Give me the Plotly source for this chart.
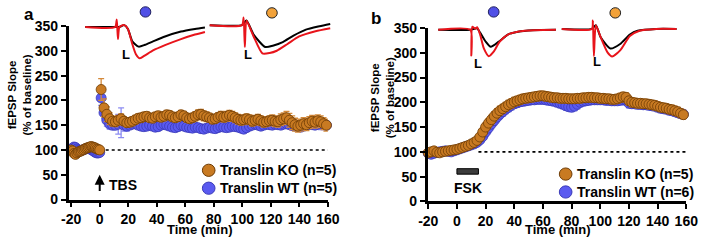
import plotly.graph_objects as go

# ---------------- data ----------------
# Panel a (TBS)
ta_base = [-20, -19, -18, -17, -16, -15, -14, -13, -12, -11, -10, -9, -8, -7, -6, -5, -4, -3, -2, -1, 0]
ko_a_base = [100, 98, 93, 91, 94, 96, 97, 98, 100, 101, 103, 104, 105, 106, 107, 106, 105, 104, 102, 101, 100]
wt_a_base = [100, 104, 106, 105, 102, 100, 99, 99, 100, 101, 102, 103, 103, 102, 101, 99, 97, 95, 94, 94, 95]
ko_a_base_err = [4, 4, 5, 5, 4, 4, 4, 4, 4, 4, 4, 4, 4, 4, 5, 5, 4, 4, 4, 4, 4]
wt_a_base_err = [4, 5, 5, 4, 4, 4, 4, 4, 4, 4, 4, 4, 4, 4, 4, 4, 4, 4, 4, 4, 4]

ta_post = [1, 3, 5, 7, 9, 11, 13, 15, 17, 19, 21, 23, 25, 27, 29, 31, 33, 35, 37, 39,
           41, 43, 45, 47, 49, 51, 53, 55, 57, 59, 61, 63, 65, 67, 69, 71, 73, 75, 77, 79,
           81, 83, 85, 87, 89, 91, 93, 95, 97, 99, 101, 103, 105, 107, 109, 111, 113, 115, 117, 119,
           121, 123, 125, 127, 129, 131, 133, 135, 137, 139, 141, 143, 145, 147, 149, 151, 153, 155, 157, 159]
ko_a_post = [222, 185, 172, 163, 158, 157, 160, 163, 158, 155, 156, 158, 161, 164, 165, 167, 168, 165, 164, 167,
             169, 166, 168, 171, 170, 167, 165, 167, 171, 169, 165, 163, 165, 168, 171, 172, 169, 167, 165, 162,
             163, 166, 168, 166, 168, 170, 168, 165, 162, 160, 161, 163, 161, 158, 160, 162, 159, 156, 157, 159,
             160, 158, 157, 161, 163, 165, 160, 155, 151, 148, 150, 153, 151, 155, 158, 156, 159, 157, 153, 150]
wt_a_post = [205, 175, 160, 152, 150, 150, 152, 155, 150, 148, 150, 152, 153, 150, 148, 147, 148, 150, 148, 146,
             147, 150, 152, 150, 148, 146, 145, 147, 150, 148, 146, 145, 144, 146, 145, 143, 142, 144, 146, 144,
             143, 145, 147, 146, 145, 146, 148, 147, 146, 144, 142, 145, 148, 150, 152, 150, 148, 150, 152, 151,
             150, 152, 151, 150, 152, 153, 151, 149, 148, 147, 146, 148, 150, 152, 151, 150, 152, 153, 151, 150]
ko_a_post_err = [22, 18, 15, 12, 10, 10, 10, 10, 9, 9, 9, 9, 9, 9, 9, 9, 9, 9, 9, 9,
                 9, 9, 9, 9, 9, 9, 9, 9, 9, 9, 9, 9, 9, 9, 10, 10, 10, 10, 9, 9,
                 9, 9, 10, 10, 10, 10, 10, 10, 10, 10, 10, 10, 10, 10, 10, 10, 10, 10, 10, 10,
                 11, 11, 11, 12, 12, 13, 14, 14, 13, 12, 12, 12, 12, 12, 12, 12, 12, 12, 12, 12]
wt_a_post_err = [15, 12, 12, 10, 9, 9, 20, 30, 12, 10, 8, 8, 8, 8, 8, 8, 8, 8, 8, 8,
                 8, 8, 8, 8, 8, 8, 8, 8, 8, 8, 8, 8, 8, 8, 8, 8, 8, 8, 8, 8,
                 8, 8, 8, 8, 8, 8, 8, 8, 8, 8, 8, 8, 8, 8, 8, 8, 8, 8, 8, 8,
                 8, 8, 8, 8, 8, 8, 8, 8, 8, 8, 8, 8, 8, 8, 8, 8, 10, 12, 10, 8]

# Panel b (FSK)
tb = [-20, -18, -16, -14, -12, -10, -8, -6, -4, -2, 0, 2, 4, 6, 8, 10, 12, 14, 16, 18,
      20, 22, 24, 26, 28, 30, 32, 34, 36, 38, 40, 42, 44, 46, 48, 50, 52, 54, 56, 58,
      60, 62, 64, 66, 68, 70, 72, 74, 76, 78, 80, 82, 84, 86, 88, 90, 92, 94, 96, 98,
      100, 102, 104, 106, 108, 110, 112, 114, 116, 118, 120, 122, 124, 126, 128, 130, 132, 134, 136, 138,
      140, 142, 144, 146, 148, 150, 152, 154, 156, 158]
ko_b = [98, 100, 102, 99, 98, 100, 101, 102, 103, 104, 105, 107, 109, 111, 113, 116, 119, 123, 130, 140,
        150, 158, 165, 172, 178, 183, 187, 191, 195, 198, 201, 203, 205, 207, 208, 209, 210, 211, 212, 213,
        213, 212, 211, 210, 209, 209, 208, 208, 208, 207, 207, 207, 208, 208, 209, 209, 210, 210, 209, 209,
        208, 208, 207, 207, 206, 206, 207, 209, 211, 210, 203, 200, 199, 198, 198, 197, 197, 196, 195, 194,
        192, 190, 189, 188, 186, 185, 183, 181, 178, 175]
wt_b = [97, 95, 97, 99, 100, 101, 102, 101, 100, 102, 104, 106, 108, 110, 112, 114, 116, 119, 124, 131,
        140, 148, 156, 163, 170, 176, 181, 186, 190, 194, 197, 199, 201, 202, 203, 204, 205, 205, 206, 206,
        206, 205, 204, 203, 202, 200, 198, 196, 193, 191, 190, 192, 196, 200, 202, 203, 204, 205, 205, 205,
        205, 205, 204, 204, 203, 203, 203, 204, 205, 204, 198, 197, 197, 196, 196, 195, 195, 194, 193, 192,
        190, 188, 187, 186, 184, 183, 181, 179, 177, 176]
ko_b_err = [5] * 10 + [6] * 10 + [9] * 70
wt_b_err = [5] * 10 + [6] * 10 + [9] * 70

# Sample traces (insets): time in ms, amplitude in mV
aw_red_t = [0.5, 8.0, 8.4, 8.7, 9.0, 9.5, 10.3, 11.2, 12.3, 13.2, 14.2, 15.5, 17.5, 20.5, 24.5, 28.0, 30.5]
aw_red_v = [0, 0, 0.2, -0.32, -0.02, 0.03, 0.05, -0.05, -0.45, -0.72, -0.83, -0.75, -0.62, -0.48, -0.32, -0.2, -0.13]
aw_blk_t = [0.5, 8.0, 9.0, 10.3, 11.2, 12.3, 13.9, 15.5, 17.5, 20.5, 24.5, 28.0, 30.5]
aw_blk_v = [0, 0, 0, 0.05, -0.05, -0.38, -0.52, -0.47, -0.38, -0.25, -0.12, -0.05, -0.01]

ak_red_t = [0.5, 8.6, 9.0, 9.3, 9.7, 11.5, 13.7, 15.5, 17.3, 20.0, 22.9, 27.0, 30.7]
ak_red_v = [0, 0, 0.2, -0.58, 0.12, -0.3, -0.75, -0.74, -0.68, -0.5, -0.3, -0.16, -0.08]
ak_blk_t = [0.5, 8.6, 9.7, 11.5, 14.4, 16.5, 18.8, 21.5, 24.6, 28.0, 30.7]
ak_blk_v = [0, 0, 0.12, -0.25, -0.58, -0.54, -0.45, -0.28, -0.12, -0.03, 0.03]

bw_red_t = [0.75, 9.0, 9.25, 9.5, 10.25, 10.75, 11.5, 12.5, 13.75, 15.0, 16.5, 18.75, 22.5, 31.0]
bw_red_v = [0, 0, -0.68, 0.08, 0.03, 0.07, -0.12, -0.5, -0.7, -0.58, -0.32, -0.12, -0.03, 0]
bw_blk_t = [0.75, 9.0, 10.75, 11.5, 13.0, 14.25, 16.25, 18.75, 21.25, 25.0, 31.0]
bw_blk_v = [0, 0, 0.04, -0.07, -0.32, -0.45, -0.32, -0.12, -0.05, -0.01, 0]

bk_red_t = [0.75, 8.5, 8.75, 9.0, 9.5, 10.75, 12.5, 13.7, 15.75, 18.25, 20.75, 25.0, 30.25]
bk_red_v = [0, 0, 0.22, -0.72, 0.1, -0.22, -0.62, -0.73, -0.57, -0.19, -0.05, 0, 0]
bk_blk_t = [0.75, 8.5, 9.5, 10.75, 13.25, 15.75, 18.25, 20.25, 25.0, 30.25]
bk_blk_v = [0, 0, 0.1, -0.22, -0.52, -0.4, -0.15, -0.05, 0, 0]

x_ticks = [-20, 0, 20, 40, 60, 80, 100, 120, 140, 160]
x_ticktext = ["-20", "0", "20", "40", "60", "80", "100", "120", "140", "160"]
y_ticks = [0, 50, 100, 150, 200, 250, 300, 350]
ko_name = ["Translin KO (n=5)", "Translin KO (n=5)"]
wt_name = ["Translin WT (n=5)", "Translin WT (n=6)"]
y_title = ["fEPSP Slope", "(% of baseline)"]

# ---------------- style ----------------
W, H = 708, 249          # visible window
OX, OY = 60, 30          # hidden extra canvas on the left / top
WC, HC = W + OX, H + OY
FONT = "Liberation Sans, Arial, sans-serif"
KO_FILL, KO_LINE, KO_ERR = "#C87A22", "#6E3C05", "#D4893A"
WT_FILL, WT_LINE, WT_ERR = "#5A5AF0", "#3A3AB8", "#8C8CF2"


def px(x):
    return (x + OX) / WC


def py(y):
    return 1 - (y + OY) / HC


fig = go.Figure()


def data_trace(x, y, e, fill, line, ecol, xa, ya):
    fig.add_trace(go.Scatter(
        x=x, y=y, mode="markers", xaxis=xa, yaxis=ya, cliponaxis=False,
        marker=dict(size=10, color=fill, line=dict(color=line, width=0.8)),
        error_y=dict(type="data", array=e, color=ecol, thickness=1.3, width=3),
        showlegend=False, hoverinfo="skip"))


# panel a
data_trace(ta_base, wt_a_base, wt_a_base_err, WT_FILL, WT_LINE, WT_ERR, "x", "y")
data_trace(ta_post, wt_a_post, wt_a_post_err, WT_FILL, WT_LINE, WT_ERR, "x", "y")
data_trace(ta_base, ko_a_base, ko_a_base_err, KO_FILL, KO_LINE, KO_ERR, "x", "y")
data_trace(ta_post, ko_a_post, ko_a_post_err, KO_FILL, KO_LINE, KO_ERR, "x", "y")
# panel b
data_trace(tb, wt_b, wt_b_err, WT_FILL, WT_LINE, WT_ERR, "x2", "y2")
data_trace(tb, ko_b, ko_b_err, KO_FILL, KO_LINE, KO_ERR, "x2", "y2")

# inset traces
insets = [
    ("x3", "y3", aw_blk_t, aw_blk_v, aw_red_t, aw_red_v),
    ("x4", "y4", ak_blk_t, ak_blk_v, ak_red_t, ak_red_v),
    ("x5", "y5", bw_blk_t, bw_blk_v, bw_red_t, bw_red_v),
    ("x6", "y6", bk_blk_t, bk_blk_v, bk_red_t, bk_red_v),
]
for xa, ya, bt, bv, rt, rv in insets:
    fig.add_trace(go.Scatter(x=bt, y=bv, mode="lines", xaxis=xa, yaxis=ya,
                             line=dict(color="black", width=2, shape="spline", smoothing=0.6),
                             showlegend=False, hoverinfo="skip", cliponaxis=False))
    fig.add_trace(go.Scatter(x=rt, y=rv, mode="lines", xaxis=xa, yaxis=ya,
                             line=dict(color="#E8141B", width=2, shape="spline", smoothing=0.6),
                             showlegend=False, hoverinfo="skip", cliponaxis=False))

# empty traces carrying the free axes that hold the y titles
fig.add_trace(go.Scatter(x=[], y=[], xaxis="x", yaxis="y7", showlegend=False, hoverinfo="skip"))
fig.add_trace(go.Scatter(x=[], y=[], xaxis="x2", yaxis="y8", showlegend=False, hoverinfo="skip"))

axis_common = dict(showgrid=False, zeroline=False, showline=True, linecolor="black", linewidth=2.5,
                   ticks="outside", ticklen=5, tickwidth=2, tickcolor="black",
                   tickfont=dict(family=FONT, size=14, color="black", weight="bold"))
title_axis = dict(anchor="free", range=[0, 1], showline=False, showgrid=False, zeroline=False,
                  ticks="", showticklabels=False)
title_font = dict(family=FONT, size=11.5, color="black", weight="bold")

layout = dict(
    width=WC, height=HC, autosize=False, margin=dict(l=0, r=0, t=0, b=0),
    paper_bgcolor="white", plot_bgcolor="rgba(0,0,0,0)", showlegend=False,
    xaxis=dict(domain=[px(63), px(329.5)], range=[-21.8, 160], tickvals=x_ticks, ticktext=x_ticktext,
               anchor="y", **axis_common),
    yaxis=dict(domain=[py(205), py(21)], range=[0, 350], tickvals=y_ticks, anchor="x", **axis_common),
    xaxis2=dict(domain=[px(432), px(698)], range=[-20.5, 160], tickvals=x_ticks, ticktext=x_ticktext,
                anchor="y2", **axis_common),
    yaxis2=dict(domain=[py(207), py(23)], range=[0, 350], tickvals=y_ticks, anchor="x2", **axis_common),
    yaxis7=dict(domain=[py(154), py(34)], position=px(31),
                title=dict(text=y_title[0] + "<br>" + y_title[1], standoff=2, font=title_font), **title_axis),
    yaxis8=dict(domain=[py(157), py(37)], position=px(404),
                title=dict(text=y_title[0] + "<br>" + y_title[1], standoff=2, font=title_font), **title_axis),
)
inset_boxes = {
    3: ((78, 206), (6, 62), (0, 31.2), (-1.0, 0.4)),
    4: ((206, 334), (4, 62), (0, 31.2), (-1.05, 0.4)),
    5: ((440, 566), (6, 64), (0, 31.5), (-0.975, 0.475)),
    6: ((567, 693), (6, 64), (0, 31.5), (-1.0, 0.45)),
}
for k, ((x0, x1), (y0, y1), xr, yr) in inset_boxes.items():
    layout[f"xaxis{k}"] = dict(domain=[px(x0), px(x1)], range=list(xr), visible=False, anchor=f"y{k}")
    layout[f"yaxis{k}"] = dict(domain=[py(y1), py(y0)], range=list(yr), visible=False, anchor=f"x{k}")
fig.update_layout(**layout)

bold = dict(family=FONT, color="black", weight="bold")
ann = []


def text(x, y, s, size, xanchor="center", yanchor="middle", angle=0, xref="paper", yref="paper"):
    ann.append(dict(x=x, y=y, xref=xref, yref=yref, text=s, showarrow=False, xanchor=xanchor,
                    yanchor=yanchor, textangle=angle, font=dict(size=size, **bold)))


# panel labels
text(px(22), py(9), "a", 17)
text(px(379), py(13), "b", 17)
# x axis titles
text(px(198), py(237), "Time (min)", 13)
text(px(566), py(237), "Time (min)", 13)
# legends
for (cx, ty, name) in [(207, 174, ko_name[0]), (574, 178, ko_name[1])]:
    text(px(cx + 10), py(ty), name, 14, xanchor="left")
for (cx, ty, name) in [(207, 193, wt_name[0]), (574, 197, wt_name[1])]:
    text(px(cx + 10), py(ty), name, 14, xanchor="left")
# scale bars "L"
for (lx, ly) in [(122, 51), (247, 51), (484, 61), (606, 59)]:
    text(px(lx), py(ly), "L", 13)
# TBS
ann.append(dict(x=0, y=50, xref="x", yref="y", ax=0, ay=14, axref="x", ayref="y", text="",
                showarrow=True, arrowhead=2, arrowsize=1, arrowwidth=2, arrowcolor="black"))
text(5, 29, "TBS", 14, xanchor="left", xref="x", yref="y")
# FSK
text(7.5, 28, "FSK", 14, xref="x2", yref="y2")
fig.update_layout(annotations=ann)

shapes = []
# dotted baseline
shapes.append(dict(type="line", xref="x", yref="y", x0=0, x1=160, y0=100, y1=100,
                   line=dict(color="black", width=1.6, dash="dot"), layer="below"))
shapes.append(dict(type="line", xref="x2", yref="y2", x0=15, x1=160, y0=100, y1=100,
                   line=dict(color="black", width=1.6, dash="dot"), layer="below"))
# FSK bar
shapes.append(dict(type="rect", xref="x2", yref="y2", x0=0, x1=15, y0=55, y1=66,
                   fillcolor="#3C3C3C", line=dict(color="black", width=1)))


def circle(cx, cy, d, fill, line):
    shapes.append(dict(type="circle", xref="paper", yref="paper",
                       x0=px(cx - d / 2), x1=px(cx + d / 2), y0=py(cy + d / 2), y1=py(cy - d / 2),
                       fillcolor=fill, line=dict(color=line, width=1)))


# legend markers
circle(207, 174, 13, KO_FILL, KO_LINE)
circle(207, 193, 13, WT_FILL, WT_LINE)
circle(574, 178, 13, KO_FILL, KO_LINE)
circle(574, 197, 13, WT_FILL, WT_LINE)
# inset group markers
circle(142, 6, 11, "#5050E6", "#202060")
circle(272, 7, 11, "#F2A23A", "#222222")
circle(500, 6, 11, "#5050E6", "#202060")
circle(625, 7, 11, "#F2A23A", "#222222")
fig.update_layout(shapes=shapes)

post = ("document.body.style.margin='0';"
        "document.body.style.overflow='hidden';"
        "document.body.style.marginLeft='-%dpx';document.body.style.marginTop='-%dpx';" % (OX, OY))
fig.write_html("out.html", config={"displayModeBar": False}, post_script=post)
